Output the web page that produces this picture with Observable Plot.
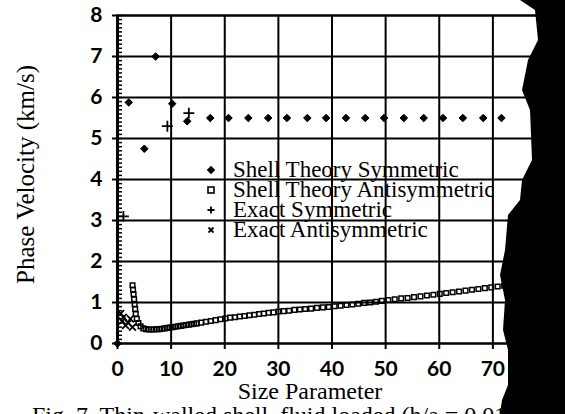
<!DOCTYPE html>
<html><head><meta charset="utf-8">
<script src="https://cdn.jsdelivr.net/npm/d3@7"></script>
<script src="https://cdn.jsdelivr.net/npm/@observablehq/plot@0.6"></script>
<style>
html,body{margin:0;padding:0;background:#fff;overflow:hidden;}
#wrap{position:relative;width:565px;height:414px;overflow:hidden;background:#fff;}
#legend{position:absolute;left:200px;top:160px;font-family:"Liberation Serif",serif;font-size:23px;line-height:20px;color:#000;}
.row{display:flex;align-items:center;height:20px;white-space:nowrap;}
.row svg{width:22px;height:20px;flex:none;}
.row span{margin-left:11px;}
#caption{position:absolute;left:32px;top:403px;font-family:"Liberation Serif",serif;font-size:24px;line-height:24px;white-space:nowrap;color:#000;}
#blob{position:absolute;left:0;top:0;width:565px;height:414px;background:#000;
clip-path:polygon(565px 0,520px 0,535px 10px,538px 40px,528px 60px,522px 90px,530px 110px,532px 160px,522px 180px,520px 200px,508px 215px,505px 250px,500px 275px,505px 300px,503px 330px,508px 350px,508px 385px,502px 400px,500px 414px,565px 414px);}
</style>
</head><body>
<div id="wrap"></div>
<script>
// ---- data ----
const xTicks = [0, 10, 20, 30, 40, 50, 60, 70];
const yTicks = [0, 1, 2, 3, 4, 5, 6, 7, 8];
const legendLabels = ["Shell Theory Symmetric", "Shell Theory Antisymmetric", "Exact Symmetric", "Exact Antisymmetric"];
const xLabel = "Size Parameter";
const yLabel = "Phase Velocity (km/s)";
const captionText = "Fig. 7. Thin-walled shell, fluid loaded (h/a = 0.01)";

// Shell Theory Symmetric (filled diamonds)
const stsX = [0, 2.1, 5.0, 7.1, 10.2, 13.0, 17.3, 20.7, 24.4, 28.1, 31.6, 35.4, 38.9, 42.6, 46.2, 49.7, 53.4, 57.1, 60.7, 64.4, 68.2, 71.6];
const stsY = [0, 5.88, 4.75, 7.0, 5.85, 5.42, 5.5, 5.5, 5.5, 5.5, 5.5, 5.5, 5.5, 5.5, 5.5, 5.5, 5.5, 5.5, 5.5, 5.5, 5.5, 5.5];

// Shell Theory Antisymmetric (open squares)
const staX = [2.8, 2.9, 3.0, 3.1, 3.2, 3.3, 3.4, 3.6, 3.9, 4.3, 4.8, 5.3, 5.8, 6.3, 6.8, 7.3, 7.8, 8.3, 8.8, 9.3, 9.8, 10.3, 10.8, 11.3, 11.8, 12.3, 12.8, 13.3, 13.8, 14.3, 14.8, 15.6, 16.5, 17.4, 18.3, 19.2, 20.1, 21.0, 21.9, 22.8, 23.7, 24.6, 25.5, 26.4, 27.3, 28.2, 29.1, 30.0, 31.0, 32.0, 33.0, 34.0, 35.0, 36.1, 37.2, 38.3, 39.4, 40.5, 41.6, 42.7, 43.8, 44.9, 46.0, 47.1, 48.2, 49.3, 50.5, 51.7, 52.9, 54.1, 55.3, 56.5, 57.7, 58.9, 60.1, 61.3, 62.5, 63.7, 64.9, 66.1, 67.3, 68.5, 69.7, 70.9, 72.1];
const staY = [1.42, 1.31, 1.20, 1.08, 0.96, 0.84, 0.72, 0.60, 0.50, 0.42, 0.37, 0.35, 0.34, 0.34, 0.34, 0.35, 0.35, 0.36, 0.37, 0.38, 0.39, 0.40, 0.41, 0.42, 0.43, 0.44, 0.45, 0.46, 0.47, 0.48, 0.49, 0.51, 0.53, 0.55, 0.57, 0.59, 0.61, 0.63, 0.64, 0.66, 0.67, 0.69, 0.70, 0.72, 0.73, 0.75, 0.76, 0.78, 0.79, 0.80, 0.82, 0.83, 0.84, 0.85, 0.87, 0.88, 0.89, 0.91, 0.92, 0.94, 0.95, 0.97, 0.99, 1.00, 1.02, 1.04, 1.06, 1.08, 1.10, 1.11, 1.13, 1.15, 1.17, 1.19, 1.21, 1.23, 1.25, 1.27, 1.29, 1.31, 1.33, 1.35, 1.37, 1.39, 1.41];

// Exact Symmetric (plus)
const esX = [1.1, 9.3, 13.3];
const esY = [3.1, 5.3, 5.62];

// Exact Antisymmetric (times)
const eaX = [0.6, 1.1, 1.5, 2.0, 2.8, 0.9, 2.4];
const eaY = [0.73, 0.64, 0.44, 0.5, 0.4, 0.55, 0.6];

const zip = (xs, ys) => xs.map((x, i) => ({x, y: ys[i]}));
const sts = zip(stsX, stsY), sta = zip(staX, staY), es = zip(esX, esY), ea = zip(eaX, eaY);
const minorY = d3.ticks(0, 8, 80);

const tickFont = {fontSize: 21, fontWeight: "bold", fontFamily: "Lato, sans-serif"};
const chart = Plot.plot({
  width: 565, height: 404,
  marginLeft: 117, marginRight: 19, marginTop: 15, marginBottom: 61,
  x: {domain: [0, 80]},
  y: {domain: [0, 8]},
  style: {background: "transparent", color: "black", overflow: "visible"},
  marks: [
    Plot.gridX(xTicks, {stroke: "black", strokeOpacity: 1, strokeWidth: 2}),
    Plot.gridY(yTicks, {stroke: "black", strokeOpacity: 1, strokeWidth: 2}),
    Plot.frame({stroke: "black", strokeWidth: 2}),
    Plot.tickY(minorY, {y: d => d, stroke: "black", strokeWidth: 1.5, insetLeft: -1, insetRight: 424}),
    Plot.ruleX([0], {stroke: "black", strokeWidth: 3}),
    Plot.axisX(xTicks, {tickSize: 6, tickPadding: 12, strokeWidth: 2, label: null, ...tickFont}),
    Plot.axisY(yTicks, {tickSize: 5, tickPadding: 10, strokeWidth: 2, label: null, ...tickFont}),
    Plot.dot(sta, {x: "x", y: "y", symbol: "square", r: 2.6, fill: "none", stroke: "black", strokeWidth: 1.5}),
    Plot.dot(ea, {x: "x", y: "y", symbol: "times", r: 3.2, stroke: "black", strokeWidth: 1.8}),
    Plot.dot(es, {x: "x", y: "y", symbol: "plus", r: 3.6, stroke: "black", strokeWidth: 1.8}),
    Plot.dot(sts, {x: "x", y: "y", symbol: "diamond2", r: 3.4, fill: "black", stroke: "black", strokeWidth: 1}),
    Plot.text([xLabel], {text: d => d, frameAnchor: "bottom", dx: -22, dy: 55, fontSize: 24, fontFamily: "Liberation Serif, serif", fill: "black"}),
    Plot.text([yLabel], {text: d => d, frameAnchor: "left", textAnchor: "middle", rotate: -90, dx: -92, dy: -5, fontSize: 25, fontFamily: "Liberation Serif, serif", fill: "black"})
  ]
});
const wrap = document.getElementById("wrap");
wrap.appendChild(chart);

// legend overlay
const markers = [
  '<rect x="8" y="7" width="6" height="6" fill="black" transform="rotate(45 11 10)"/>',
  '<rect x="8" y="7" width="6" height="6" fill="none" stroke="black" stroke-width="1.6"/>',
  '<path d="M11 6.5V13.5M7.5 10H14.5" stroke="black" stroke-width="1.8"/>',
  '<path d="M8.5 7.5L13.5 12.5M13.5 7.5L8.5 12.5" stroke="black" stroke-width="1.8"/>'
];
const legend = document.createElement("div");
legend.id = "legend";
legendLabels.forEach((lab, i) => {
  const row = document.createElement("div");
  row.className = "row";
  row.innerHTML = '<svg viewBox="0 0 22 20">' + markers[i] + '</svg><span></span>';
  row.querySelector("span").textContent = lab;
  legend.appendChild(row);
});
wrap.appendChild(legend);

const cap = document.createElement("div");
cap.id = "caption";
cap.textContent = captionText;
wrap.appendChild(cap);

const blob = document.createElement("div");
blob.id = "blob";
wrap.appendChild(blob);
</script>
</body></html>
